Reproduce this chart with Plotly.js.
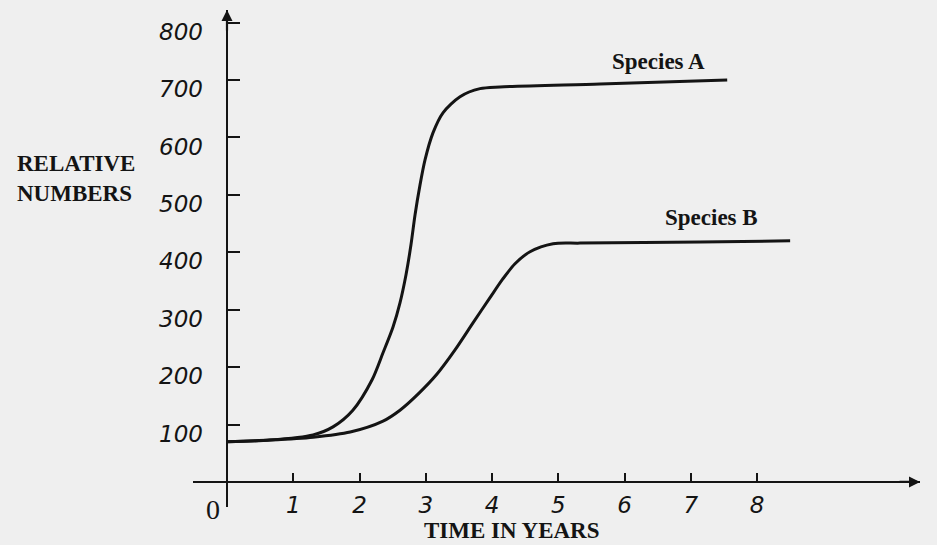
<!DOCTYPE html>
<html>
<head>
<meta charset="utf-8">
<script src="https://cdn.plot.ly/plotly-3.0.1.min.js"></script>
<style>html,body{margin:0;padding:0;background:#efefef;}#chart{width:937px;height:545px;}</style>
</head>
<body>
<div id="chart"></div>
<script>
// ---- data ----
const timeA    = [0, 0.65, 1.30, 1.60, 1.90, 2.19, 2.355, 2.506, 2.611, 2.702, 2.777, 2.838, 2.913, 2.989, 3.109, 3.260, 3.517, 3.819, 4.12, 5.63, 7.55];
const speciesA = [70, 73, 82, 96, 125, 178, 225, 270, 312, 361, 413, 465, 517, 561, 608, 643, 671, 685, 688, 693, 700];
const timeB    = [0, 0.65, 1.30, 1.86, 2.355, 2.611, 2.883, 3.170, 3.442, 3.713, 3.970, 4.166, 4.347, 4.574, 4.921, 5.328, 7.14, 8.50];
const speciesB = [70, 73, 78, 87, 106, 125, 153, 188, 230, 277, 321, 354, 380, 401, 415, 416, 418, 420];
const xTicks = [1, 2, 3, 4, 5, 6, 7, 8];
const xTickText = ['1', '2', '3', '4', '5', '6', '7', '8'];
const yTicks = [100, 200, 300, 400, 500, 600, 700, 800];
const yTickText = ['100', '200', '300', '400', '500', '600', '700', '800'];
const seriesNames = ['Species A', 'Species B'];

const xRange = [-0.513, 10.46];
const yRange = [-43.6, 822];
const ink = '#141414';
const hand = {family: 'DejaVu Sans, sans-serif', size: 23, color: ink, style: 'italic'};
const serifBold = {family: 'Liberation Serif, serif', size: 23, color: ink, weight: 'bold'};

const lineStyle = {color: ink, width: 3, shape: 'spline', smoothing: 0.8};
const traces = [
  {x: timeA, y: speciesA, name: seriesNames[0], mode: 'lines', line: lineStyle, hoverinfo: 'skip'},
  {x: timeB, y: speciesB, name: seriesNames[1], mode: 'lines', line: lineStyle, hoverinfo: 'skip'}
];

const layout = {
  width: 937, height: 545,
  margin: {l: 193, r: 17, t: 10, b: 38},
  paper_bgcolor: '#efefef', plot_bgcolor: '#efefef',
  showlegend: false,
  xaxis: {
    range: xRange, anchor: 'free',
    position: (0 - yRange[0]) / (yRange[1] - yRange[0]),
    showgrid: false, showline: false,
    zeroline: true, zerolinecolor: ink, zerolinewidth: 2.5,
    tickmode: 'array', tickvals: xTicks, ticktext: xTickText,
    ticks: 'inside', ticklen: 9, tickwidth: 2, tickcolor: ink,
    ticklabelstandoff: 7,
    tickfont: hand
  },
  yaxis: {
    range: yRange, anchor: 'free',
    position: (0 - xRange[0]) / (xRange[1] - xRange[0]),
    showgrid: false, showline: false,
    zeroline: true, zerolinecolor: ink, zerolinewidth: 2.5,
    tickmode: 'array', tickvals: yTicks, ticktext: yTickText,
    ticks: 'inside', ticklen: 12, tickwidth: 2, tickcolor: ink,
    ticklabelstandoff: 24, ticklabelshift: 9,
    tickfont: hand
  },
  annotations: [
    {x: xRange[1], y: 0, xref: 'x', yref: 'y', ax: -22, ay: 0, axref: 'pixel', ayref: 'pixel',
     showarrow: true, arrowhead: 2, arrowsize: 1, arrowwidth: 2.2, arrowcolor: ink, text: ''},
    {x: 0, y: yRange[1], xref: 'x', yref: 'y', ax: 0, ay: 22, axref: 'pixel', ayref: 'pixel',
     showarrow: true, arrowhead: 2, arrowsize: 1, arrowwidth: 2.2, arrowcolor: ink, text: ''},
    {x: -0.21, y: -0.006, xref: 'x', yref: 'paper', text: '0', showarrow: false,
     xanchor: 'center', yanchor: 'middle', font: {family: 'Liberation Serif, serif', size: 28, color: ink}},
    {x: 4.3, y: -0.048, xref: 'x', yref: 'paper', text: 'TIME IN YEARS', showarrow: false,
     xanchor: 'center', yanchor: 'middle', font: serifBold},
    {x: -178 / 727, y: 0.66, xref: 'paper', yref: 'paper', text: 'RELATIVE<br>NUMBERS', showarrow: false,
     xanchor: 'left', yanchor: 'middle', align: 'left', font: serifBold},
    {x: 6.51, y: 732, xref: 'x', yref: 'y', text: seriesNames[0], showarrow: false, font: serifBold},
    {x: 7.31, y: 460, xref: 'x', yref: 'y', text: seriesNames[1], showarrow: false, font: serifBold}
  ]
};

Plotly.newPlot('chart', traces, layout, {displayModeBar: false, staticPlot: true});
</script>
</body>
</html>
